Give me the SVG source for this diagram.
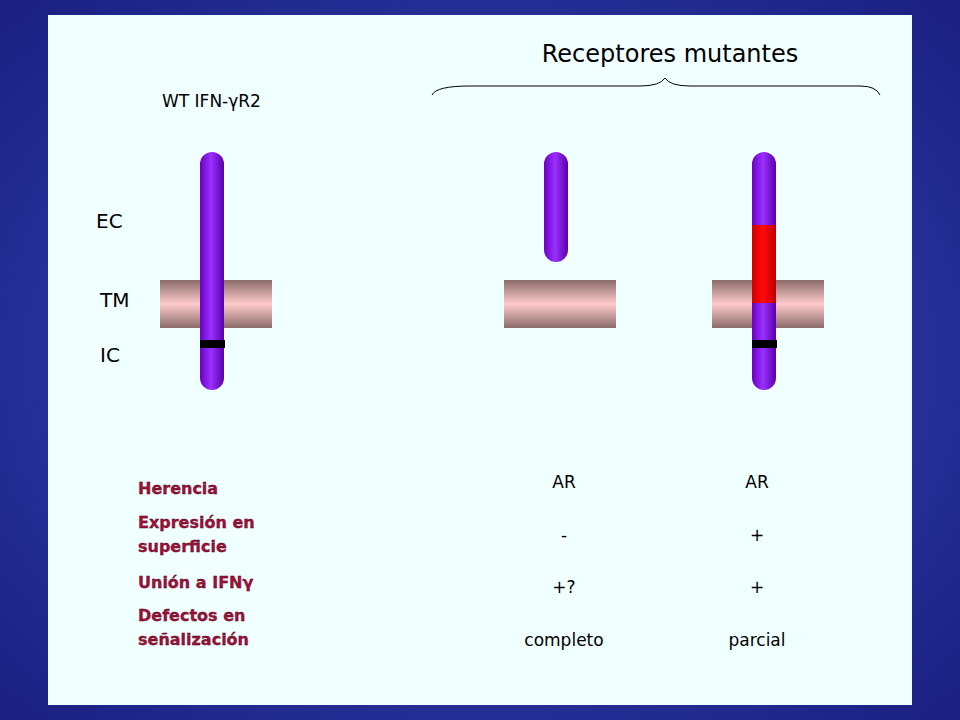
<svg xmlns="http://www.w3.org/2000/svg" width="960" height="720" viewBox="0 0 960 720">
<defs>
<radialGradient id="bg" cx="50%" cy="50%" r="70%"><stop offset="0" stop-color="#3a4fc0"/><stop offset="1" stop-color="#1a1f80"/></radialGradient>
<linearGradient id="mem" x1="0" y1="0" x2="0" y2="1"><stop offset="0" stop-color="#8a6a6a"/><stop offset="0.5" stop-color="#ffcccc"/><stop offset="1" stop-color="#8a6a6a"/></linearGradient>
<linearGradient id="bar" x1="0" y1="0" x2="1" y2="0"><stop offset="0" stop-color="#6a00c0"/><stop offset="0.45" stop-color="#9a30ff"/><stop offset="1" stop-color="#5a00a8"/></linearGradient>
<linearGradient id="red" x1="0" y1="0" x2="1" y2="0"><stop offset="0" stop-color="#d00000"/><stop offset="0.45" stop-color="#ff0a0a"/><stop offset="1" stop-color="#c00000"/></linearGradient>
</defs>
<style>
.t{font-family:"Comic Sans MS","DejaVu Sans",sans-serif;font-size:17px;fill:#000}
.r{font-family:"Comic Sans MS","DejaVu Sans",sans-serif;font-size:16px;font-weight:bold;fill:#a0103a;stroke:#400010;stroke-width:0.3}
.c{text-anchor:middle}
</style>
<rect width="960" height="720" fill="url(#bg)"/>
<rect x="48" y="15" width="864" height="690" fill="#f0ffff"/>
<text class="t" x="670" y="62" font-size="24" text-anchor="middle" style="font-size:24px">Receptores mutantes</text>
<path d="M432,95 Q436,86 470,86 L640,86 Q660,86 665,78 Q670,86 690,86 L860,86 Q876,86 880,95" fill="none" stroke="#000" stroke-width="1"/>
<text class="t" x="162" y="107">WT IFN-γR2</text>
<text class="t" x="96" y="228" style="font-size:20px">EC</text>
<text class="t" x="100" y="307" style="font-size:20px">TM</text>
<text class="t" x="100" y="362" style="font-size:20px">IC</text>
<g id="wt">
<rect x="200" y="152" width="24" height="238" rx="12" fill="url(#bar)"/>
<rect x="160" y="280" width="112" height="48" fill="url(#mem)"/>
<rect x="200" y="280" width="24" height="48" fill="url(#bar)"/>
<rect x="200" y="340" width="25" height="8" fill="#000"/>
</g>
<g id="mut1">
<rect x="544" y="152" width="24" height="110" rx="12" fill="url(#bar)"/>
<rect x="504" y="280" width="112" height="48" fill="url(#mem)"/>
</g>
<g id="mut2">
<rect x="752" y="152" width="24" height="238" rx="12" fill="url(#bar)"/>
<rect x="712" y="280" width="112" height="48" fill="url(#mem)"/>
<rect x="752" y="225" width="24" height="78" fill="url(#red)"/>
<rect x="752" y="303" width="24" height="25" fill="url(#bar)"/>
<rect x="752" y="340" width="25" height="8" fill="#000"/>
</g>
<text class="r" x="138" y="494">Herencia</text>
<text class="r" x="138" y="528">Expresión en</text>
<text class="r" x="138" y="552">superficie</text>
<text class="r" x="138" y="588">Unión a IFNγ</text>
<text class="r" x="138" y="621">Defectos en</text>
<text class="r" x="138" y="645">señalización</text>
<g class="t c">
<text x="564" y="488">AR</text><text x="564" y="541">-</text><text x="564" y="593">+?</text><text x="564" y="646">completo</text>
<text x="757" y="488">AR</text><text x="757" y="541">+</text><text x="757" y="593">+</text><text x="757" y="646">parcial</text>
</g>
</svg>
